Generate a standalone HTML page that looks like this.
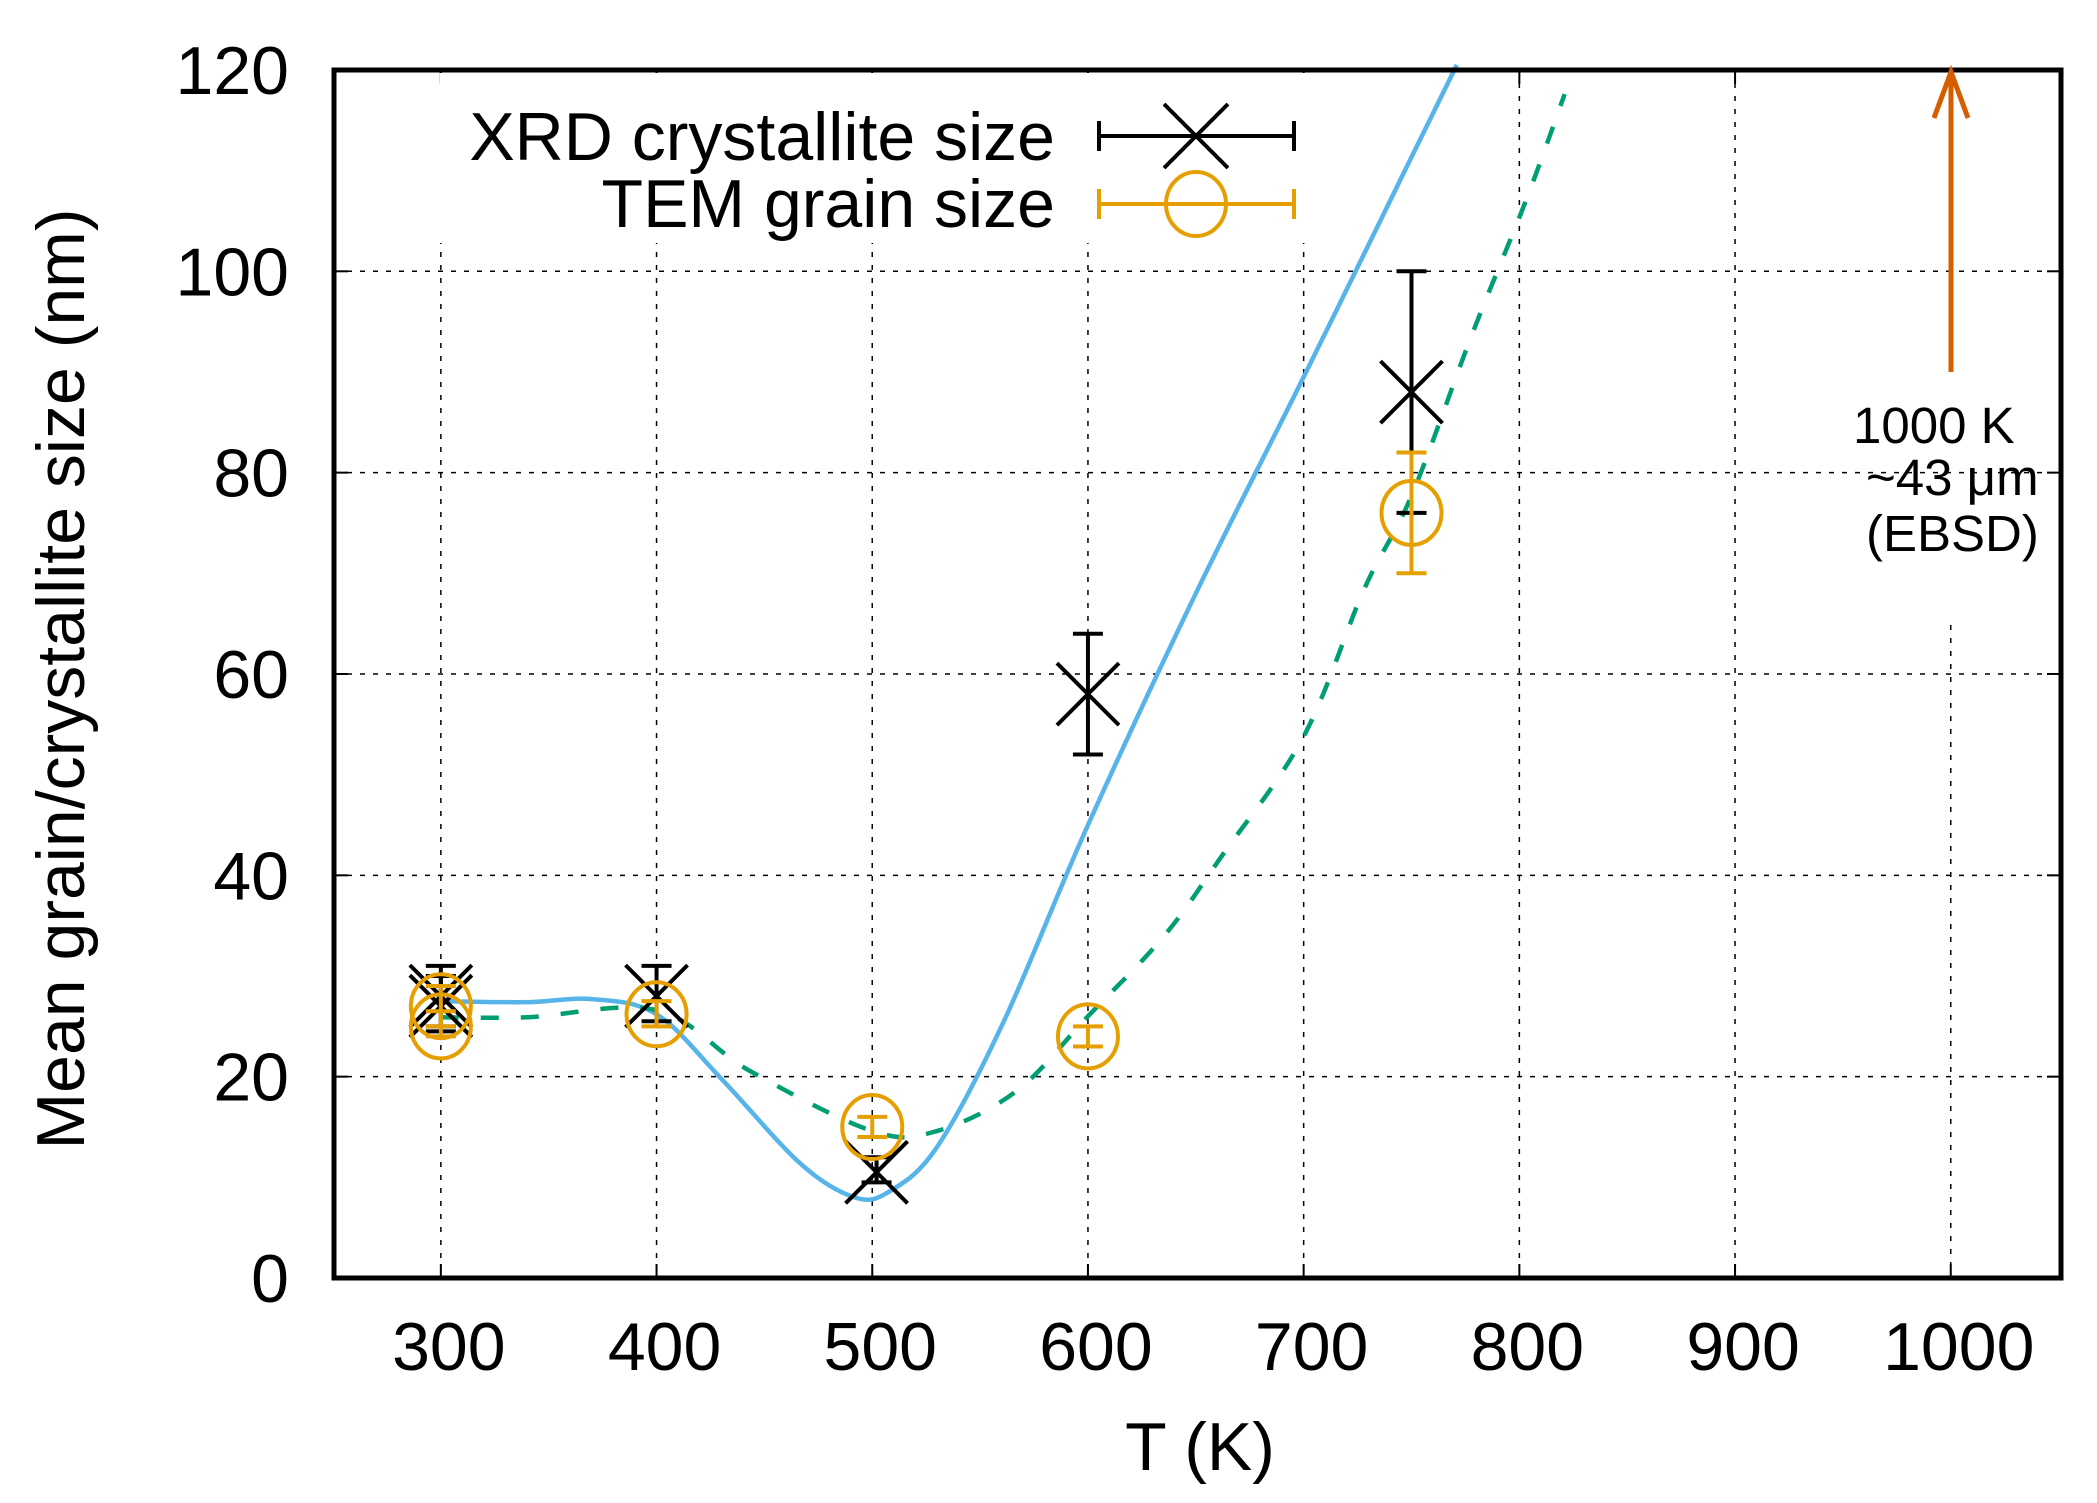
<!DOCTYPE html>
<html><head><meta charset="utf-8"><style>
html,body{margin:0;padding:0;background:#fff;}
svg{display:block;}
text{font-family:"Liberation Sans",sans-serif;fill:#000;}
</style></head><body>
<svg id="s" width="2097" height="1503" viewBox="0 0 2097 1503" xmlns="http://www.w3.org/2000/svg">
<rect width="2097" height="1503" fill="#fff"/>
<g id="grid" stroke="#000" stroke-width="1.5" stroke-dasharray="5,8"></g>
<g id="ticks" stroke="#000" stroke-width="2"></g>
<g id="curves" fill="none"></g>
<g id="pts" fill="none" stroke-width="4"></g>
<rect x="440" y="73" width="880" height="170" fill="#fff"/>
<rect x="334" y="70" width="1727" height="1208" fill="none" stroke="#000" stroke-width="5"/>
<g id="labels" font-size="68"></g>
<text x="1055" y="160" font-size="68" text-anchor="end">XRD crystallite size</text>
<text x="1055" y="227" font-size="68" text-anchor="end">TEM grain size</text>
<g stroke="#000" stroke-width="4">
<line x1="1099" y1="136" x2="1294" y2="136"/><line x1="1099" y1="121" x2="1099" y2="151"/><line x1="1294" y1="121" x2="1294" y2="151"/>
<line x1="1164" y1="104" x2="1228" y2="168"/><line x1="1164" y1="168" x2="1228" y2="104"/>
</g>
<g stroke="#e69f00" stroke-width="4" fill="none">
<line x1="1099" y1="204" x2="1294" y2="204"/><line x1="1099" y1="189" x2="1099" y2="219"/><line x1="1294" y1="189" x2="1294" y2="219"/>
<ellipse cx="1196" cy="204" rx="30" ry="32"/>
</g>
<g stroke="#d55e00" stroke-width="5" fill="none">
<line x1="1951" y1="372" x2="1951" y2="74"/>
<polyline points="1934,118 1951,72 1968,118"/>
</g>
<text x="1853" y="443" font-size="51">1000 K</text>
<text x="1866" y="495" font-size="51">~43 μm</text>
<text x="1866" y="551" font-size="51">(EBSD)</text>
<text x="1200" y="1470" font-size="68" text-anchor="middle">T (K)</text>
<text transform="translate(84,679) rotate(-90)" font-size="68" text-anchor="middle">Mean grain/crystallite size (nm)</text>
</svg>
<script>
var NS="http://www.w3.org/2000/svg";
function X(T){return 333+(T-250)*2.157;}
function Y(v){return 1278-v*10.067;}
function el(p,t,a){var e=document.createElementNS(NS,t);for(var k in a)e.setAttribute(k,a[k]);document.getElementById(p).appendChild(e);return e;}
for(var T=300;T<=1000;T+=100){
  var x=X(T);
  if(T<1000) el("grid","line",{x1:x,y1:70,x2:x,y2:1278});
  else el("grid","line",{x1:x,y1:625,x2:x,y2:1278});
  el("ticks","line",{x1:x,y1:1278,x2:x,y2:1264});
  el("ticks","line",{x1:x,y1:70,x2:x,y2:84});
  var t=el("labels","text",{x:x+8,y:1370,"text-anchor":"middle"});t.textContent=T;
}
for(var v=0;v<=120;v+=20){
  var y=Y(v);
  if(v>0&&v<120) el("grid","line",{x1:334,y1:y,x2:2061,y2:y});
  el("ticks","line",{x1:334,y1:y,x2:348,y2:y});
  el("ticks","line",{x1:2061,y1:y,x2:2047,y2:y});
  var t=el("labels","text",{x:289,y:y+24,"text-anchor":"end"});t.textContent=v;
}
function cr(pts){
  var P=pts.map(function(p){return [X(p[0]),Y(p[1])];});
  var d="M"+P[0][0]+","+P[0][1];
  for(var i=0;i<P.length-1;i++){
    var p0=P[i-1]||P[i],p1=P[i],p2=P[i+1],p3=P[i+2]||P[i+1];
    var c1=[p1[0]+(p2[0]-p0[0])/6,p1[1]+(p2[1]-p0[1])/6];
    var c2=[p2[0]-(p3[0]-p1[0])/6,p2[1]-(p3[1]-p1[1])/6];
    d+=" C"+c1[0]+","+c1[1]+" "+c2[0]+","+c2[1]+" "+p2[0]+","+p2[1];
  }
  return d;
}
var blue=[[300,27.5],[340,27.4],[370,27.7],[400,26.2],[430,19.8],[467,11.3],[492,8.0],[508,8.6],[530,13],[561,25.5],[600,45],[650,68],[700,89.5],[746,109.6],[771,120.5]];
var green=[[300,25.9],[340,25.9],[400,26.6],[443,20.6],[500,14.6],[530,14.6],[567,18.6],[600,26],[635,33.9],[662,41.9],[700,53.8],[728,68.4],[750,77.7],[778,93.7],[803,107],[821,117.6]];
el("curves","path",{d:cr(blue),stroke:"#56b4e9","stroke-width":4.5});
el("curves","path",{d:cr(green),stroke:"#009e73","stroke-width":4.5,"stroke-dasharray":"18,22"});
function ebar(T,v,lo,hi,c){var x=X(T);
  el("pts","line",{x1:x,y1:Y(lo),x2:x,y2:Y(hi),stroke:c});
  el("pts","line",{x1:x-15,y1:Y(lo),x2:x+15,y2:Y(lo),stroke:c});
  el("pts","line",{x1:x-15,y1:Y(hi),x2:x+15,y2:Y(hi),stroke:c});}
function xm(T,v,lo,hi){ebar(T,v,lo,hi,"#000");var x=X(T),y=Y(v);
  el("pts","line",{x1:x-31,y1:y-31,x2:x+31,y2:y+31,stroke:"#000"});
  el("pts","line",{x1:x-31,y1:y+31,x2:x+31,y2:y-31,stroke:"#000"});}
function om(T,v,lo,hi){ebar(T,v,lo,hi,"#e69f00");
  el("pts","ellipse",{cx:X(T),cy:Y(v),rx:30,ry:32,stroke:"#e69f00"});}
xm(300,28,25,31);xm(300,27,24.5,30);xm(400,28,25.5,31);xm(502,10.5,9.5,12);
xm(600,58,52,64);xm(750,88,76,100);
om(300,27,25,29);om(300,25,24,26.5);om(400,26.2,25,27.5);om(500,15,14,16);om(600,24,23,25);om(750,76,70,82);
</script>
</body></html>
